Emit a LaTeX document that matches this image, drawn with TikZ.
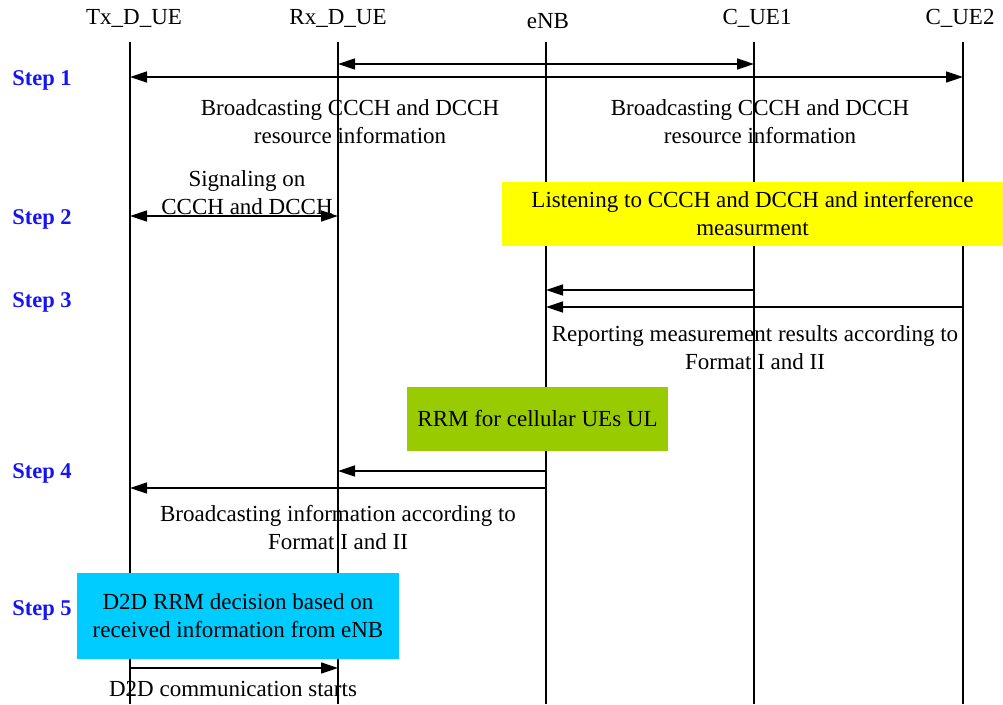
\documentclass[tikz,border=0pt]{standalone}
\usepackage{fontspec}
\setmainfont{Liberation Serif}
\usetikzlibrary{arrows.meta}
\definecolor{stepblue}{RGB}{20,20,245}
\definecolor{boxyellow}{RGB}{255,255,0}
\definecolor{boxgreen}{RGB}{153,204,0}
\definecolor{boxcyan}{RGB}{0,204,255}
\tikzset{
  lbl/.style={font=\fontsize{23}{28}\selectfont, align=center, inner sep=0pt},
  steplbl/.style={font=\fontsize{22.5}{28}\selectfont\bfseries, text=stepblue, inner sep=0pt},
  life/.style={line width=1.8pt},
  msg/.style={line width=1.4pt, -{Triangle[length=17pt,width=11pt]}},
  dmsg/.style={line width=1.4pt, {Triangle[length=17pt,width=11pt]}-{Triangle[length=17pt,width=11pt]}},
}
\begin{document}
\begin{tikzpicture}[x=1pt,y=-1pt]
\useasboundingbox (0,0) rectangle (1003,704);
% lifeline heads
\node[lbl] (tx) at (134,18) {Tx\_D\_UE};
\node[lbl] (rx) at (338,18) {Rx\_D\_UE};
\node[lbl] (enb) at (548,21) {eNB};
\node[lbl] (c1) at (757,18) {C\_UE1};
\node[lbl] (c2) at (960,18) {C\_UE2};
% lifeline ends
\coordinate (txT) at (130,42); \coordinate (txB) at (130,704);
\coordinate (rxT) at (338,42); \coordinate (rxB) at (338,704);
\coordinate (enT) at (546,42); \coordinate (enB) at (546,704);
\coordinate (c1T) at (754,42); \coordinate (c1B) at (754,704);
\coordinate (c2T) at (963,42); \coordinate (c2B) at (963,704);
% texts (under lifelines)
\node[lbl] (t1a) at (350,122) {Broadcasting CCCH and DCCH\\resource information};
\node[lbl] (t1b) at (760,122) {Broadcasting CCCH and DCCH\\resource information};
\node[lbl] (t2) at (247,193) {Signaling on\\CCCH and DCCH};
\node[lbl] (t3) at (755,348) {Reporting measurement results according to\\Format I and II};
\node[lbl] (t4) at (338,528) {Broadcasting information according to\\Format I and II};
\node[lbl] (t5) at (233,689) {D2D communication starts};
% lifelines
\draw[life] (txT) -- (txB);
\draw[life] (rxT) -- (rxB);
\draw[life] (enT) -- (enB);
\draw[life] (c1T) -- (c1B);
\draw[life] (c2T) -- (c2B);
% step labels
\node[steplbl] (s1) at (42,80) {Step 1};
\node[steplbl] (s2) at (42,219) {Step 2};
\node[steplbl] (s3) at (42,302) {Step 3};
\node[steplbl] (s4) at (42,473) {Step 4};
\node[steplbl] (s5) at (42,610) {Step 5};
% message anchor points
\coordinate (m1a) at (338,64); \coordinate (m1b) at (754,64);
\coordinate (m2a) at (130,77); \coordinate (m2b) at (963,77);
\coordinate (m3a) at (130,216); \coordinate (m3b) at (338,216);
\coordinate (m4a) at (754,290); \coordinate (m4b) at (546,290);
\coordinate (m5a) at (963,307); \coordinate (m5b) at (546,307);
\coordinate (m6a) at (546,471); \coordinate (m6b) at (338,471);
\coordinate (m7a) at (546,488); \coordinate (m7b) at (130,488);
\coordinate (m8a) at (130,668); \coordinate (m8b) at (338,668);
% messages
\draw[dmsg] (m1a) -- (m1b);
\draw[dmsg] (m2a) -- (m2b);
\draw[dmsg] (m3a) -- (m3b);
\draw[msg] (m4a) -- (m4b);
\draw[msg] (m5a) -- (m5b);
\draw[msg] (m6a) -- (m6b);
\draw[msg] (m7a) -- (m7b);
\draw[msg] (m8a) -- (m8b);
% activity boxes
\node[lbl, fill=boxyellow, minimum width=501pt, minimum height=64pt] (yb) at (752.5,214) {Listening to CCCH and DCCH and interference\\measurment};
\node[lbl, fill=boxgreen, minimum width=261pt, minimum height=64pt] (gb) at (537.5,419) {RRM for cellular UEs UL};
\node[lbl, fill=boxcyan, minimum width=322pt, minimum height=86pt] (cb) at (238,616) {D2D RRM decision based on\\received information from eNB};
\end{tikzpicture}
\end{document}
